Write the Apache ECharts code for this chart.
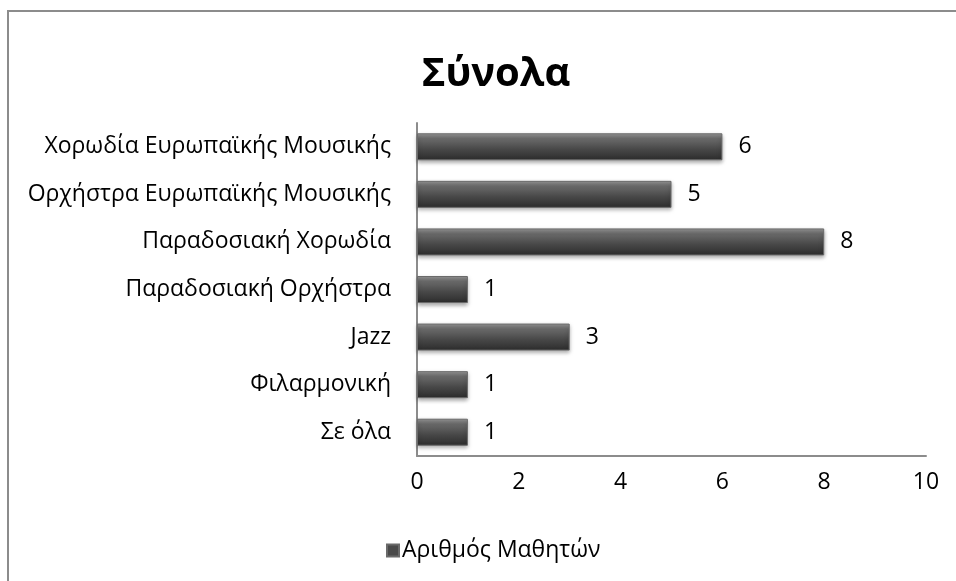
<!DOCTYPE html>
<html>
<head>
<meta charset="utf-8">
<script src="https://cdn.jsdelivr.net/npm/echarts@6/dist/echarts.min.js"></script>
<style>
    html, body { margin: 0; padding: 0; background: #fff; }
    #chart { width: 956px; height: 581px; }
</style>
</head>
<body>
<div id="chart"></div>
<script>
// κατηγορίες από κάτω προς τα πάνω
const categories = ['Σε όλα', 'Φιλαρμονική', 'Jazz', 'Παραδοσιακή Ορχήστρα', 'Παραδοσιακή Χορωδία', 'Ορχήστρα Ευρωπαϊκής Μουσικής', 'Χορωδία Ευρωπαϊκής Μουσικής'];
const students = [1, 1, 3, 1, 8, 5, 6];
const xTicks = [0, 2, 4, 6, 8, 10];

const chart = echarts.init(document.getElementById('chart'));
const font = '"Open Sans", "Liberation Sans", sans-serif';

const barColor = new echarts.graphic.LinearGradient(0, 0, 0, 1, [
    { offset: 0, color: '#9a9a9a' },
    { offset: 0.2, color: '#6a6a6a' },
    { offset: 0.6, color: '#474747' },
    { offset: 1, color: '#2c2c2c' },
]);

chart.setOption({
    animation: false,
    textStyle: { fontFamily: font },
    title: {
        text: 'Σύνολα',
        left: 491,
        textAlign: 'center',
        top: 50,
        textStyle: { fontSize: 40, fontWeight: 'bold', color: '#000', fontFamily: font },
    },
    graphic: [
        {
            type: 'polyline',
            shape: { points: [[8, 581], [8, 11], [956, 11]] },
            style: { stroke: '#8c8c8c', lineWidth: 2, fill: null },
        },
    ],
    legend: {
        bottom: 14,
        left: 381,
        itemWidth: 12,
        itemHeight: 12,
        itemGap: 4,
        textStyle: { fontSize: 23, color: '#000', padding: [0, 0, 0, -2] },
        data: [{ name: 'Αριθμός Μαθητών', icon: 'rect', itemStyle: { color: '#4a4a4a' } }],
    },
    grid: { left: 417, right: 30, top: 123, bottom: 125, containLabel: false },
    xAxis: {
        type: 'value',
        min: 0,
        max: 10,
        interval: 2,
        axisLine: { show: true, onZero: false, lineStyle: { color: '#8c8c8c', width: 2 } },
        axisTick: { show: false },
        splitLine: { show: false },
        axisLabel: {
            fontSize: 23,
            color: '#000',
            margin: 15,
            formatter: (v) => (xTicks.includes(v) ? String(v) : ''),
        },
    },
    yAxis: {
        type: 'category',
        data: categories,
        axisLine: { show: true, lineStyle: { color: '#8c8c8c', width: 2 } },
        axisTick: { show: false },
        axisLabel: { fontSize: 23, color: '#000', margin: 26 },
    },
    series: [
        {
            name: 'Αριθμός Μαθητών',
            type: 'bar',
            data: students,
            barWidth: 27,
            itemStyle: {
                color: barColor,
                borderColor: '#6a6a6a',
                borderWidth: 1,
                shadowColor: 'rgba(0,0,0,0.35)',
                shadowBlur: 4,
                shadowOffsetY: 2,
            },
            label: {
                show: true,
                position: 'right',
                distance: 16,
                fontSize: 23,
                color: '#000',
            },
        },
    ],
});
</script>
</body>
</html>
